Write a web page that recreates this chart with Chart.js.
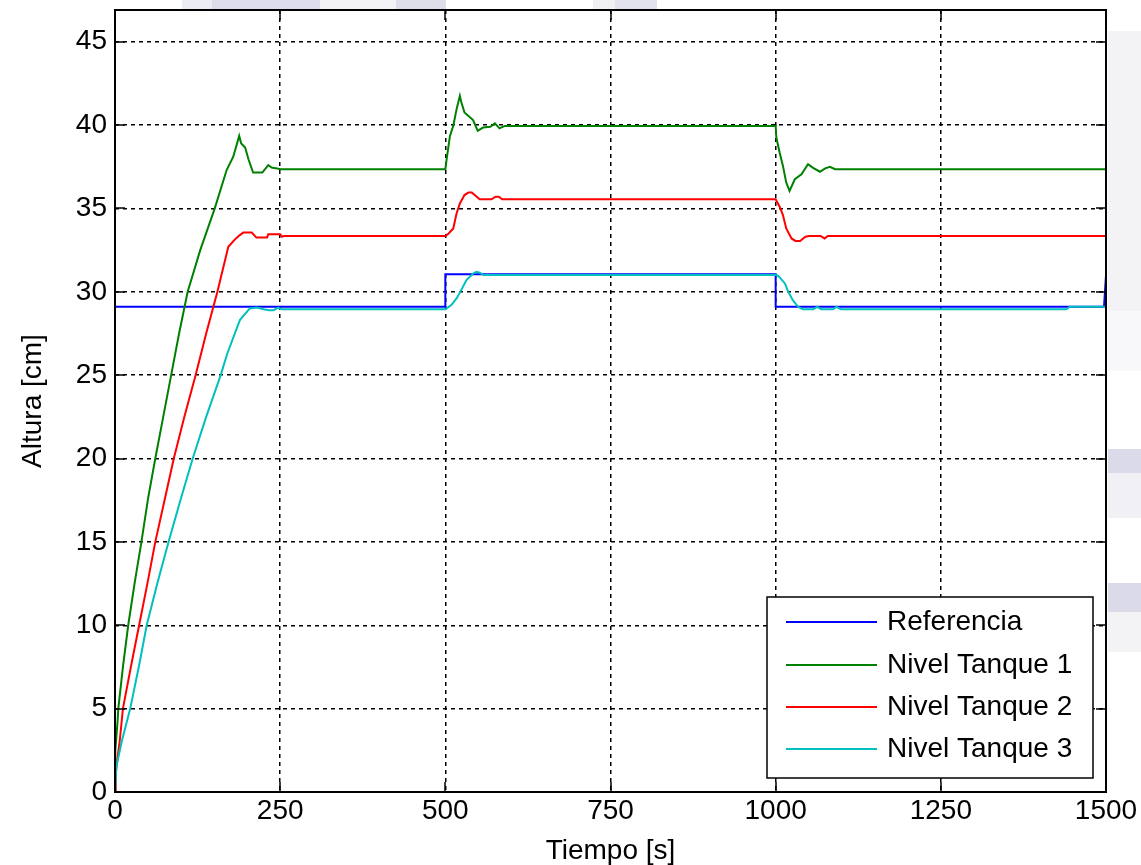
<!DOCTYPE html>
<html>
<head>
<meta charset="utf-8">
<script src="https://cdn.jsdelivr.net/npm/chart.js@4.4.0/dist/chart.umd.min.js"></script>
<style>
html,body{margin:0;padding:0;background:#fff;}
#grafica{display:block;}
</style>
</head>
<body>
<canvas id="grafica" width="1141" height="865"></canvas>
<script>
// valores (tiempo en s, altura en cm)
var tiempoRef = [0, 500, 500, 1000, 1000, 1497, 1500];
var alturaRef = [29.1, 29.1, 31.05, 31.05, 29.1, 29.1, 31.0];

var tiempoT1 = [0, 0.5, 4, 5, 12, 20, 30, 40, 50, 61, 73, 85, 97, 110, 129, 151, 169, 179, 188, 191, 197, 202, 209, 223, 232, 237, 245, 250,
  500, 502, 507, 512, 517, 522, 524, 529, 542, 549, 557, 568, 575, 582, 590,
  1000, 1001, 1006, 1011, 1016, 1021, 1029, 1039, 1049, 1056, 1067, 1075, 1082, 1090, 1500];
var alturaT1 = [0, 2.5, 4.3, 5, 7.5, 10, 12.6, 15, 17.6, 20, 22.5, 25, 27.5, 30, 32.5, 35, 37.3, 38.1, 39.35, 38.9, 38.65, 37.95, 37.15, 37.15, 37.6, 37.45, 37.4, 37.35,
  37.35, 37.95, 39.35, 39.95, 40.95, 41.75, 41.4, 40.75, 40.3, 39.65, 39.85, 39.9, 40.1, 39.8, 39.95,
  39.95, 39.25, 38.35, 37.55, 36.55, 36.05, 36.75, 37.05, 37.65, 37.45, 37.2, 37.4, 37.5, 37.35, 37.35];

var tiempoT2 = [0, 1, 3, 7, 12, 24, 36.5, 49, 61, 75, 89, 105, 122, 138, 155, 171.5, 183, 189, 194, 207, 214, 230, 232, 250, 253, 256,
  500, 505, 512, 517, 522, 529, 535, 540, 552, 570, 576, 581, 586,
  1000, 1006, 1011, 1016, 1024, 1030, 1037, 1045, 1051, 1068, 1074, 1079, 1500];
var alturaT2 = [0, 1, 1.8, 3, 5, 7.5, 10, 12.5, 15, 17.5, 20, 22.5, 25, 27.5, 30, 32.7, 33.2, 33.4, 33.55, 33.55, 33.25, 33.25, 33.45, 33.45, 33.3, 33.35,
  33.35, 33.5, 33.8, 34.7, 35.3, 35.8, 35.95, 35.95, 35.55, 35.55, 35.7, 35.7, 35.55,
  35.55, 35.1, 34.6, 33.8, 33.2, 33.05, 33.05, 33.3, 33.35, 33.35, 33.2, 33.35, 33.35];

var tiempoT3 = [0, 2, 10, 23, 36, 48, 64, 81, 99, 117.6, 138, 160, 170, 189, 204, 215, 225, 233, 240, 247, 252,
  500, 509, 517, 524, 532, 542, 547, 552, 558,
  1000, 1004, 1014, 1019, 1026, 1034, 1041, 1057, 1063, 1069, 1087, 1092, 1099, 1440, 1445, 1500];
var alturaT3 = [0, 1.5, 3, 5, 7.5, 10, 12.5, 15, 17.5, 20, 22.5, 25, 26.3, 28.3, 29.0, 29.05, 28.95, 28.9, 28.9, 29.05, 28.95,
  28.95, 29.2, 29.6, 30.1, 30.7, 31.1, 31.2, 31.15, 31.0,
  31.0, 30.95, 30.5, 30.0, 29.5, 29.1, 28.95, 28.95, 29.1, 28.95, 28.95, 29.1, 28.95, 28.95, 29.1, 29.1];

var ticksX = [0, 250, 500, 750, 1000, 1250, 1500];
var ticksY = [0, 5, 10, 15, 20, 25, 30, 35, 40, 45];

var fuente = '"Liberation Sans", Arial, sans-serif';

function puntos(t, v){
  return t.map(function(x, i){ return {x: x, y: v[i]}; });
}

// fondo con las manchas claras de la imagen original
var fondo = {
  id: 'fondo',
  beforeDraw: function(chart){
    var ctx = chart.ctx;
    ctx.save();
    ctx.fillStyle = '#fff';
    ctx.fillRect(0, 0, chart.width, chart.height);
    ctx.fillStyle = '#ececf4';
    ctx.fillRect(182, 0, 30, 9);
    ctx.fillStyle = '#dcdcea';
    ctx.fillRect(212, 0, 108, 9);
    ctx.fillStyle = '#f3f3f6';
    ctx.fillRect(320, 0, 76, 9);
    ctx.fillStyle = '#dedeeb';
    ctx.fillRect(396, 0, 50, 9);
    ctx.fillStyle = '#f0f0f3';
    ctx.fillRect(593, 0, 22, 9);
    ctx.fillStyle = '#e2e2ee';
    ctx.fillRect(615, 0, 42, 9);
    ctx.fillStyle = '#f3f3f6';
    ctx.fillRect(1108, 31, 33, 280);
    ctx.fillStyle = '#f8f8fa';
    ctx.fillRect(1108, 311, 33, 60);
    ctx.fillStyle = '#dadae9';
    ctx.fillRect(1108, 449, 33, 24);
    ctx.fillStyle = '#f1f1f5';
    ctx.fillRect(1108, 473, 33, 45);
    ctx.fillStyle = '#dadae9';
    ctx.fillRect(1108, 583, 33, 29);
    ctx.fillStyle = '#f3f3f6';
    ctx.fillRect(1108, 612, 33, 40);
    ctx.restore();
  }
};

// marco, marcas interiores y leyenda al estilo MATLAB
var marco = {
  id: 'marco',
  afterDraw: function(chart){
    var ctx = chart.ctx;
    var a = chart.chartArea;
    var sx = chart.scales.x, sy = chart.scales.y;
    ctx.save();
    ctx.strokeStyle = '#000';
    ctx.lineWidth = 1.5;
    ctx.beginPath();
    ticksX.forEach(function(v){
      var px = Math.round(sx.getPixelForValue(v));
      ctx.moveTo(px, a.bottom); ctx.lineTo(px, a.bottom - 10);
      ctx.moveTo(px, a.top); ctx.lineTo(px, a.top + 10);
    });
    ticksY.forEach(function(v){
      var py = Math.round(sy.getPixelForValue(v));
      ctx.moveTo(a.left, py); ctx.lineTo(a.left + 10, py);
      ctx.moveTo(a.right, py); ctx.lineTo(a.right - 10, py);
    });
    ctx.stroke();
    ctx.lineWidth = 2;
    ctx.strokeRect(a.left, a.top, a.right - a.left, a.bottom - a.top);

    // leyenda
    var bx = 767, by = 597, bw = 326, bh = 181;
    ctx.fillStyle = '#fff';
    ctx.fillRect(bx, by, bw, bh);
    ctx.lineWidth = 1.5;
    ctx.strokeRect(bx, by, bw, bh);
    var filas = [622, 665, 707, 749];
    ctx.font = '28px ' + fuente;
    ctx.textAlign = 'left';
    ctx.textBaseline = 'middle';
    chart.data.datasets.forEach(function(ds, i){
      ctx.strokeStyle = ds.borderColor;
      ctx.lineWidth = 2;
      ctx.beginPath();
      ctx.moveTo(786, filas[i]); ctx.lineTo(877, filas[i]);
      ctx.stroke();
      ctx.fillStyle = '#000';
      ctx.fillText(ds.label, 887, filas[i]);
    });
    ctx.restore();
  }
};

var grafica = new Chart(document.getElementById('grafica').getContext('2d'), {
  type: 'line',
  data: {
    datasets: [{
      label: 'Referencia',
      data: puntos(tiempoRef, alturaRef),
      borderColor: '#0000ff',
      order: 4
    }, {
      label: 'Nivel Tanque 1',
      data: puntos(tiempoT1, alturaT1),
      borderColor: '#008000',
      order: 3
    }, {
      label: 'Nivel Tanque 2',
      data: puntos(tiempoT2, alturaT2),
      borderColor: '#ff0000',
      order: 2
    }, {
      label: 'Nivel Tanque 3',
      data: puntos(tiempoT3, alturaT3),
      borderColor: '#00bfbf',
      order: 1
    }]
  },
  options: {
    responsive: false,
    animation: false,
    layout: { padding: { top: 10, right: 35, left: 0, bottom: 0 } },
    elements: {
      point: { radius: 0 },
      line: { borderWidth: 2, tension: 0, fill: false }
    },
    plugins: {
      legend: { display: false },
      tooltip: { enabled: false }
    },
    scales: {
      x: {
        type: 'linear',
        min: 0,
        max: 1500,
        afterBuildTicks: function(s){ s.ticks = ticksX.map(function(v){ return {value: v}; }); },
        afterFit: function(s){ s.height = 73; s.paddingLeft = 0; s.paddingRight = 0; },
        grid: { color: '#000', lineWidth: 1.5, drawTicks: false },
        border: { display: false, dash: [4, 4] },
        ticks: {
          color: '#000', padding: 5, maxRotation: 0,
          font: { family: fuente, size: 28, lineHeight: 1 },
          callback: function(v){ return String(v); }
        },
        title: { display: true, text: 'Tiempo [s]', color: '#000', padding: 0, font: { family: fuente, size: 28, lineHeight: 1 } }
      },
      y: {
        min: 0,
        max: 46.9,
        afterBuildTicks: function(s){ s.ticks = ticksY.map(function(v){ return {value: v}; }); },
        afterFit: function(s){ s.width = 115; s.paddingTop = 0; s.paddingBottom = 0; },
        grid: { color: '#000', lineWidth: 1.5, drawTicks: false },
        border: { display: false, dash: [4, 4] },
        ticks: {
          color: '#000', padding: 8,
          font: { family: fuente, size: 28, lineHeight: 1 },
          callback: function(v){ return String(v); }
        },
        title: { display: true, text: 'Altura [cm]', color: '#000', padding: { top: 19, bottom: 0 }, font: { family: fuente, size: 28, lineHeight: 1 } }
      }
    }
  },
  plugins: [fondo, marco]
});
</script>
</body>
</html>
